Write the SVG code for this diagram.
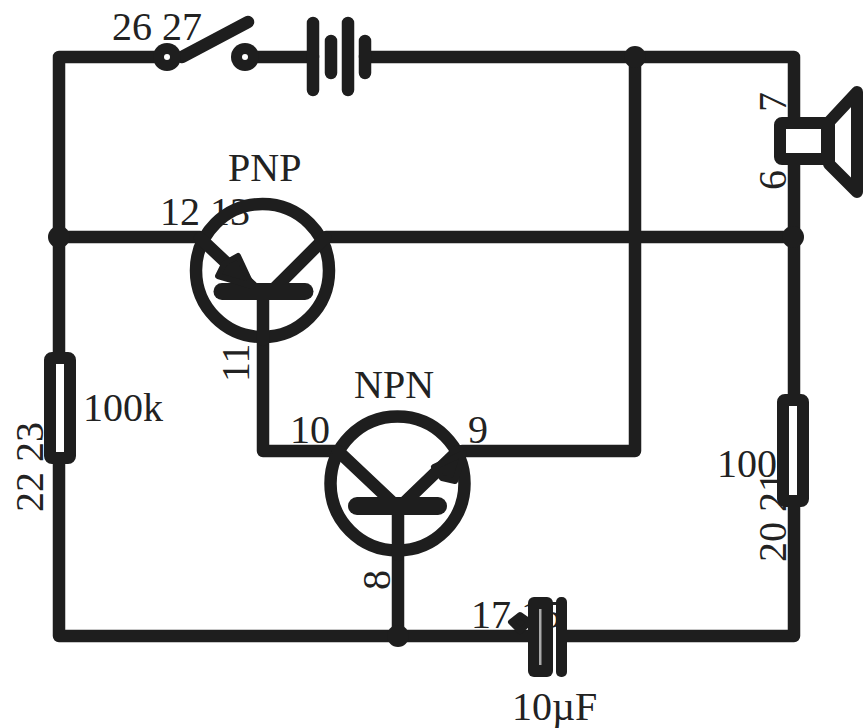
<svg xmlns="http://www.w3.org/2000/svg" width="868" height="728" viewBox="0 0 868 728">
<style>
.w{fill:none;stroke:#1e1e1e;stroke-width:12.500;stroke-linecap:round;stroke-linejoin:round}
.box{fill:#fff;stroke:#1e1e1e;stroke-width:12;stroke-linejoin:round}
.ring{fill:none;stroke:#1e1e1e;stroke-width:12.500}
.k{fill:#1e1e1e}
.ah{fill:#1e1e1e;stroke:#1e1e1e;stroke-width:6;stroke-linejoin:round}
text{font-family:"Liberation Serif","Times New Roman",serif;font-size:40px;fill:#222}
</style>
<rect width="868" height="728" fill="#fff"/>
<g id="connectors">
<path class="w" d="M167 57H59V636H528M567 636H794V57H365M313 57H243M59 237H200M326 237H794M635 57V451H462M263 340V451H335M398 555V636"/>
</g>
<g id="switch">
<path class="w" d="M182 57L248 22"/>
<circle class="k" cx="167" cy="57" r="14"/>
<circle cx="167" cy="57" r="3" fill="#fff"/>
<circle class="k" cx="245" cy="57" r="14"/>
<circle cx="245" cy="57" r="3" fill="#fff"/>
<text x="112" y="40">26 27</text>
</g>
<g id="battery">
<path class="w" d="M313 23V90M348 23V90M331 41V73M365 41V73"/>
</g>
<g id="pnp">
<text x="228" y="181">PNP</text>
<text x="160" y="225">12 13</text>
<circle class="ring" cx="262.500" cy="270.500" r="66.500"/>
<path class="w" d="M200 238L252 287M325 238L272 291M263 291V340"/>
<path class="w" style="stroke-width:17" d="M222 291.500H305"/>
<polygon class="ah" points="238,256 252,286 218,276 224,264"/>
<text transform="translate(249 382) rotate(-90)">11</text>
</g>
<g id="npn">
<text x="354" y="398">NPN</text>
<text x="290" y="443">10</text>
<text x="468" y="443">9</text>
<circle class="ring" cx="397.500" cy="483.500" r="67"/>
<path class="w" d="M338 451L392 502M405 502L458 451M398 506V555"/>
<path class="w" style="stroke-width:18" d="M357 506H438"/>
<polygon class="ah" points="434,467 464,453 455,481 442,478"/>
<text transform="translate(390 590) rotate(-90)">8</text>
</g>
<g id="speaker">
<polygon class="box" points="829,122 857,92 857,192 829,164"/>
<rect class="box" x="780" y="123" width="47" height="36" rx="2"/>
<text transform="translate(786 112) rotate(-90)">7</text>
<text transform="translate(786 190) rotate(-90)">6</text>
</g>
<g id="r100k">
<rect class="box" x="50" y="358" width="20" height="100" rx="2"/>
<text x="83" y="421">100k</text>
<text transform="translate(43 512) rotate(-90)">22 23</text>
</g>
<g id="r100">
<text x="717" y="477">100</text>
<text transform="translate(786 562) rotate(-90)">20 21</text>
<rect class="box" x="783" y="400" width="20" height="101" rx="2"/>
</g>
<g id="capacitor">
<text x="471" y="628">17 15</text>
<polygon class="ah" points="511,622 520,615 530,622 520,631"/>
<rect class="k" x="528" y="597" width="25" height="80" rx="6"/>
<rect x="539" y="609" width="2.500" height="56" fill="#aaa"/>
<rect class="k" x="556" y="597" width="11" height="80" rx="5"/>
<text x="512" y="720">10µF</text>
</g>
<g id="junctions">
<circle class="k" cx="635" cy="57" r="11"/>
<circle class="k" cx="59" cy="237" r="11"/>
<circle class="k" cx="793" cy="237" r="11"/>
<circle class="k" cx="398" cy="636" r="11"/>
</g>
</svg>
